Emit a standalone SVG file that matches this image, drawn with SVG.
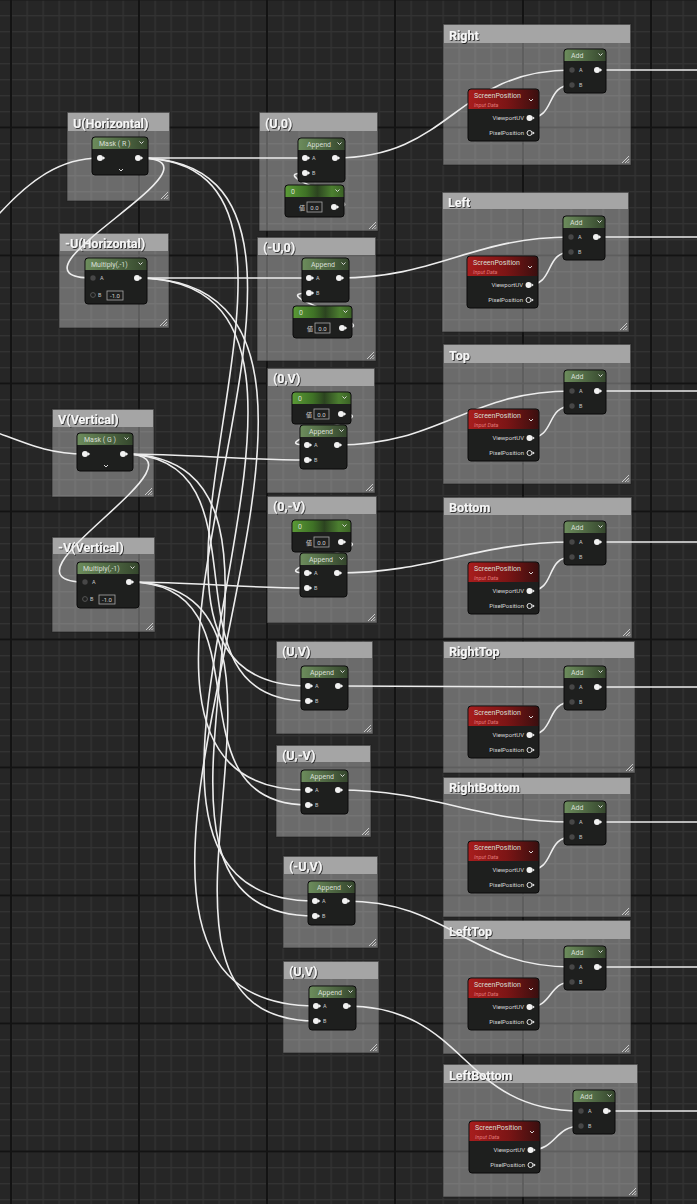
<svg xmlns="http://www.w3.org/2000/svg" width="697" height="1204" viewBox="0 0 697 1204">
<defs>
<pattern id="gridMinor" width="16" height="16" patternUnits="userSpaceOnUse" x="10.5" y="-1"><rect width="16" height="1.3" fill="#333333"/><rect width="1.3" height="16" fill="#333333"/></pattern>
<pattern id="gridMajor" width="128" height="128" patternUnits="userSpaceOnUse" x="10" y="126.5"><rect width="128" height="2" fill="#131313"/><rect width="2" height="128" fill="#131313"/></pattern>
<linearGradient id="gG" x1="0" y1="0" x2="1" y2="0"><stop offset="0" stop-color="#6c8c5c"/><stop offset="1" stop-color="#35472d"/></linearGradient>
<linearGradient id="gC" x1="0" y1="0" x2="1" y2="0"><stop offset="0" stop-color="#5a9a36"/><stop offset="0.35" stop-color="#3f7226"/><stop offset="0.55" stop-color="#2c4420"/><stop offset="0.8" stop-color="#4c7f30"/><stop offset="1" stop-color="#3b6126"/></linearGradient>
<linearGradient id="gS" x1="0" y1="0" x2="1" y2="0"><stop offset="0" stop-color="#a81d1d"/><stop offset="0.55" stop-color="#7c1515"/><stop offset="1" stop-color="#3a0f0f"/></linearGradient>
<filter id="ts" x="-5%" y="-30%" width="115%" height="160%"><feDropShadow dx="0.9" dy="0.9" stdDeviation="0.4" flood-color="#000" flood-opacity="0.75"/></filter>
<path id="grip" d="M-9,-2L-2,-9M-6,-2L-2,-6M-3.5,-2L-2,-3.5" stroke="#e2e2e2" stroke-width="0.8"/>
</defs>
<style>
.cb{fill:#ffffff;fill-opacity:.32;stroke:#1c1c1c;stroke-opacity:.6;stroke-width:1}
.ct{fill:#a5a5a5}
.ctt{font-family:Roboto,"Liberation Sans",sans-serif;font-weight:bold;font-size:12.5px;fill:#f6f6f6;filter:url(#ts)}
.w{fill:none;stroke:#ededed;stroke-width:1.6}
.nb{fill:#1e1f1e;stroke:#0a0a0a;stroke-width:1}
.hg{fill:url(#gG)}
.hc{fill:url(#gC)}
.hs{fill:url(#gS)}
.nt{font-family:Roboto,"Liberation Sans",sans-serif;font-size:7px;fill:#d8dfd5}
.sub{font-family:Roboto,"Liberation Sans",sans-serif;font-style:italic;font-size:5.5px;fill:#e07878}
.pl{font-family:Roboto,"Liberation Sans",sans-serif;font-size:5.5px;fill:#c8c8c8}
.pr{font-family:Roboto,"Liberation Sans",sans-serif;font-size:6px;fill:#d8d8d8;text-anchor:end}
.vt{font-family:Roboto,"Noto Sans CJK JP",sans-serif;font-size:6px;fill:#d0d0d0}
.vm{font-family:Roboto,"Liberation Sans",sans-serif;font-size:6px;fill:#d0d0d0;text-anchor:middle}
.vb{fill:#1e1f1e;stroke:#a8a8a8;stroke-width:0.8}
.pw{fill:#f2f2f2}
.pd{fill:#474747}
.ph{fill:none;stroke:#e6e6e6;stroke-width:1}
.pho{fill:none;stroke:#555;stroke-width:1}
.ch{fill:none;stroke:#dadada;stroke-width:1}
</style>
<rect width="697" height="1204" fill="#262626"/>
<rect width="697" height="1204" fill="url(#gridMinor)"/>
<rect width="697" height="1204" fill="url(#gridMajor)"/>

<g id="c-u" transform="translate(67,112)"><rect class="cb" width="103" height="89"/><rect class="ct" x="1" y="1" width="101" height="18"/><text class="ctt" x="6" y="16">U(Horizontal)</text><use href="#grip" x="103" y="89"/></g>
<g id="c-mu" transform="translate(59,233)"><rect class="cb" width="110" height="95"/><rect class="ct" x="1" y="1" width="108" height="17"/><text class="ctt" x="6" y="15">-U(Horizontal)</text><use href="#grip" x="110" y="95"/></g>
<g id="c-v" transform="translate(52,409)"><rect class="cb" width="102" height="88"/><rect class="ct" x="1" y="1" width="100" height="17"/><text class="ctt" x="6" y="15">V(Vertical)</text><use href="#grip" x="102" y="88"/></g>
<g id="c-mv" transform="translate(52,537)"><rect class="cb" width="103" height="95"/><rect class="ct" x="1" y="1" width="101" height="16"/><text class="ctt" x="6" y="14.5">-V(Vertical)</text><use href="#grip" x="103" y="95"/></g>
<g id="c-u0" transform="translate(259,112)"><rect class="cb" width="119" height="119"/><rect class="ct" x="1" y="1" width="117" height="18"/><text class="ctt" x="6" y="16">(U,0)</text><use href="#grip" x="119" y="119"/></g>
<g id="c-mu0" transform="translate(257,237)"><rect class="cb" width="119" height="124"/><rect class="ct" x="1" y="1" width="117" height="17"/><text class="ctt" x="6" y="15">(-U,0)</text><use href="#grip" x="119" y="124"/></g>
<g id="c-0v" transform="translate(267,368)"><rect class="cb" width="108" height="125"/><rect class="ct" x="1" y="1" width="106" height="17"/><text class="ctt" x="6" y="15">(0,V)</text><use href="#grip" x="108" y="125"/></g>
<g id="c-0mv" transform="translate(267,496)"><rect class="cb" width="110" height="127"/><rect class="ct" x="1" y="1" width="108" height="17"/><text class="ctt" x="6" y="15">(0,-V)</text><use href="#grip" x="110" y="127"/></g>
<g id="c-uv" transform="translate(276,641)"><rect class="cb" width="97" height="93"/><rect class="ct" x="1" y="1" width="95" height="16"/><text class="ctt" x="6" y="14.5">(U,V)</text><use href="#grip" x="97" y="93"/></g>
<g id="c-umv" transform="translate(276,745)"><rect class="cb" width="95" height="92"/><rect class="ct" x="1" y="1" width="93" height="16"/><text class="ctt" x="6" y="14.5">(U,-V)</text><use href="#grip" x="95" y="92"/></g>
<g id="c-muv" transform="translate(283,856)"><rect class="cb" width="95" height="92"/><rect class="ct" x="1" y="1" width="93" height="17"/><text class="ctt" x="6" y="15">(-U,V)</text><use href="#grip" x="95" y="92"/></g>
<g id="c-uv2" transform="translate(283,961)"><rect class="cb" width="96" height="92"/><rect class="ct" x="1" y="1" width="94" height="17"/><text class="ctt" x="6" y="15">(U,V)</text><use href="#grip" x="96" y="92"/></g>
<g id="c-right" transform="translate(443,24)"><rect class="cb" width="188" height="141"/><rect class="ct" x="1" y="1" width="186" height="18"/><text class="ctt" x="6" y="16">Right</text><use href="#grip" x="188" y="141"/></g>
<g id="c-left" transform="translate(442,192)"><rect class="cb" width="187" height="140"/><rect class="ct" x="1" y="1" width="185" height="16"/><text class="ctt" x="6" y="14.5">Left</text><use href="#grip" x="187" y="140"/></g>
<g id="c-top" transform="translate(443,344)"><rect class="cb" width="188" height="140"/><rect class="ct" x="1" y="1" width="186" height="18"/><text class="ctt" x="6" y="16">Top</text><use href="#grip" x="188" y="140"/></g>
<g id="c-bottom" transform="translate(443,497)"><rect class="cb" width="189" height="141"/><rect class="ct" x="1" y="1" width="187" height="17"/><text class="ctt" x="6" y="15">Bottom</text><use href="#grip" x="189" y="141"/></g>
<g id="c-righttop" transform="translate(443,641)"><rect class="cb" width="192" height="132"/><rect class="ct" x="1" y="1" width="190" height="16"/><text class="ctt" x="6" y="14.5">RightTop</text><use href="#grip" x="192" y="132"/></g>
<g id="c-rightbottom" transform="translate(443,777)"><rect class="cb" width="188" height="140"/><rect class="ct" x="1" y="1" width="186" height="16"/><text class="ctt" x="6" y="14.5">RightBottom</text><use href="#grip" x="188" y="140"/></g>
<g id="c-lefttop" transform="translate(443,920)"><rect class="cb" width="188" height="134"/><rect class="ct" x="1" y="1" width="186" height="18"/><text class="ctt" x="6" y="16">LeftTop</text><use href="#grip" x="188" y="134"/></g>
<g id="c-leftbottom" transform="translate(443,1064)"><rect class="cb" width="195" height="133"/><rect class="ct" x="1" y="1" width="193" height="18"/><text class="ctt" x="6" y="16">LeftBottom</text><use href="#grip" x="195" y="133"/></g>

<g id="connectors" class="w">
<path d="M-2,215 C30,180 60,158 100,158"/>
<path d="M-2,433 C30,445 50,454 85,454"/>
<path d="M138,158 C198,158 245,158 305,158"/>
<path d="M138,158 C243,158 -12,278 93,278"/>
<path d="M138,158 C389,158 57,686 308,686"/>
<path d="M138,158 C427,158 19,790 308,790"/>
<path d="M137,278 C199,278 247,278 309,278"/>
<path d="M137,278 C425,278 27,901 315,901"/>
<path d="M137,278 C464,278 -11,1006 316,1006"/>
<path d="M123,454 C191,454 239,460 307,460"/>
<path d="M123,454 C225,454 -17,582 85,582"/>
<path d="M123,454 C279,454 152,701 308,701"/>
<path d="M123,454 C358,454 80,916 315,916"/>
<path d="M129,582 C195,582 241,588 307,588"/>
<path d="M129,582 C274,582 163,805 308,805"/>
<path d="M129,582 C354,582 91,1021 316,1021"/>
<path d="M334,207 C380,207 259,173 305,173"/>
<path d="M342,328 C392,328 259,293 309,293"/>
<path d="M341,414 C391,414 257,445 307,445"/>
<path d="M341,542 C391,542 257,573 307,573"/>
<path d="M335,158 C452,158 455,70 572,70"/>
<path d="M339,278 C437,278 473,237 571,237"/>
<path d="M337,445 C441,445 468,391 572,391"/>
<path d="M337,573 C433,573 476,542 572,542"/>
<path d="M338,686 C423,686 487,687 572,687"/>
<path d="M338,790 C434,790 476,822 572,822"/>
<path d="M345,901 C450,901 467,967 572,967"/>
<path d="M346,1006 C468,1006 459,1111 581,1111"/>
<path d="M529,118 C556,118 545,85 572,85"/>
<path d="M528,285 C555,285 544,252 571,252"/>
<path d="M529,438 C556,438 545,406 572,406"/>
<path d="M529,591 C557,591 544,557 572,557"/>
<path d="M529,735 C556,735 545,702 572,702"/>
<path d="M529,870 C556,870 545,837 572,837"/>
<path d="M529,1007 C553,1007 548,982 572,982"/>
<path d="M530,1150 C557,1150 554,1126 581,1126"/>
<path d="M597,70H700"/>
<path d="M596,237H700"/>
<path d="M597,391H700"/>
<path d="M597,542H700"/>
<path d="M597,687H700"/>
<path d="M597,822H700"/>
<path d="M597,967H700"/>
<path d="M606,1111H700"/>
</g>

<g id="n-mask-r" transform="translate(92,137)"><rect class="nb" width="56" height="38" rx="3"/><path class="hg" d="M0.5,12V3.5Q0.5,0.5 3.5,0.5H52.5Q55.5,0.5 55.5,3.5V12Z"/><text class="nt" x="7" y="9">Mask ( R )</text><path class="ch" d="M47.5,4.5l2,2l2-2"/><circle class="pw" cx="8" cy="21" r="3"/><path class="pw" d="M11,19.3l2.2,1.7l-2.2,1.7z"/><circle class="pw" cx="46" cy="21" r="3"/><path class="pw" d="M49,19.3l2.2,1.7l-2.2,1.7z"/><path class="ch" d="M27,32l2,2l2-2"/></g>
<g id="n-mul-u" transform="translate(85,258)"><rect class="nb" width="62" height="46" rx="3"/><path class="hg" d="M0.5,12V3.5Q0.5,0.5 3.5,0.5H58.5Q61.5,0.5 61.5,3.5V12Z"/><text class="nt" x="6" y="9">Multiply(,-1)</text><path class="ch" d="M53.5,4.5l2,2l2-2"/><circle class="pd" cx="8" cy="20" r="2.7"/><text class="pl" x="15" y="22">A</text><circle class="pho" cx="8" cy="37" r="2.4"/><text class="pl" x="13" y="39">B</text><rect class="vb" x="22" y="33" width="16" height="9"/><text class="vm" x="30" y="40">-1.0</text><circle class="pw" cx="52" cy="20" r="3"/><path class="pw" d="M55,18.3l2.2,1.7l-2.2,1.7z"/></g>
<g id="n-mask-g" transform="translate(77,433)"><rect class="nb" width="56" height="38" rx="3"/><path class="hg" d="M0.5,12V3.5Q0.5,0.5 3.5,0.5H52.5Q55.5,0.5 55.5,3.5V12Z"/><text class="nt" x="7" y="9">Mask ( G )</text><path class="ch" d="M47.5,4.5l2,2l2-2"/><circle class="pw" cx="8" cy="21" r="3"/><path class="pw" d="M11,19.3l2.2,1.7l-2.2,1.7z"/><circle class="pw" cx="46" cy="21" r="3"/><path class="pw" d="M49,19.3l2.2,1.7l-2.2,1.7z"/><path class="ch" d="M27,32l2,2l2-2"/></g>
<g id="n-mul-v" transform="translate(77,562)"><rect class="nb" width="62" height="46" rx="3"/><path class="hg" d="M0.5,12V3.5Q0.5,0.5 3.5,0.5H58.5Q61.5,0.5 61.5,3.5V12Z"/><text class="nt" x="6" y="9">Multiply(,-1)</text><path class="ch" d="M53.5,4.5l2,2l2-2"/><circle class="pd" cx="8" cy="20" r="2.7"/><text class="pl" x="15" y="22">A</text><circle class="pho" cx="8" cy="37" r="2.4"/><text class="pl" x="13" y="39">B</text><rect class="vb" x="22" y="33" width="16" height="9"/><text class="vm" x="30" y="40">-1.0</text><circle class="pw" cx="52" cy="20" r="3"/><path class="pw" d="M55,18.3l2.2,1.7l-2.2,1.7z"/></g>

<g id="n-append-u0" transform="translate(298,138)"><rect class="nb" width="47" height="44" rx="3"/><path class="hg" d="M0.5,12V3.5Q0.5,0.5 3.5,0.5H43.5Q46.5,0.5 46.5,3.5V12Z"/><text class="nt" x="9" y="9">Append</text><path class="ch" d="M39.5,4.5l2,2l2-2"/><circle class="pw" cx="7" cy="20" r="3"/><path class="pw" d="M10,18.3l2.2,1.7l-2.2,1.7z"/><text class="pl" x="14" y="22">A</text><circle class="pw" cx="7" cy="35" r="3"/><path class="pw" d="M10,33.3l2.2,1.7l-2.2,1.7z"/><text class="pl" x="14" y="37">B</text><circle class="pw" cx="37" cy="20" r="3"/><path class="pw" d="M40,18.3l2.2,1.7l-2.2,1.7z"/></g>
<g id="n-const-u0" transform="translate(285,185)"><rect class="nb" width="59" height="32" rx="3"/><path class="hc" d="M0.5,12V3.5Q0.5,0.5 3.5,0.5H55.5Q58.5,0.5 58.5,3.5V12Z"/><text class="nt" x="6" y="9">0</text><path class="ch" d="M50.5,4.5l2,2l2-2"/><text class="vt" x="14" y="25">値</text><rect class="vb" x="22" y="17" width="15" height="10"/><text class="vm" x="29.5" y="24.5">0.0</text><circle class="pw" cx="49" cy="22" r="3"/><path class="pw" d="M52,20.3l2.2,1.7l-2.2,1.7z"/></g>

<g id="n-append-mu0" transform="translate(302,258)"><rect class="nb" width="47" height="44" rx="3"/><path class="hg" d="M0.5,12V3.5Q0.5,0.5 3.5,0.5H43.5Q46.5,0.5 46.5,3.5V12Z"/><text class="nt" x="9" y="9">Append</text><path class="ch" d="M39.5,4.5l2,2l2-2"/><circle class="pw" cx="7" cy="20" r="3"/><path class="pw" d="M10,18.3l2.2,1.7l-2.2,1.7z"/><text class="pl" x="14" y="22">A</text><circle class="pw" cx="7" cy="35" r="3"/><path class="pw" d="M10,33.3l2.2,1.7l-2.2,1.7z"/><text class="pl" x="14" y="37">B</text><circle class="pw" cx="37" cy="20" r="3"/><path class="pw" d="M40,18.3l2.2,1.7l-2.2,1.7z"/></g>
<g id="n-const-mu0" transform="translate(293,306)"><rect class="nb" width="59" height="32" rx="3"/><path class="hc" d="M0.5,12V3.5Q0.5,0.5 3.5,0.5H55.5Q58.5,0.5 58.5,3.5V12Z"/><text class="nt" x="6" y="9">0</text><path class="ch" d="M50.5,4.5l2,2l2-2"/><text class="vt" x="14" y="25">値</text><rect class="vb" x="22" y="17" width="15" height="10"/><text class="vm" x="29.5" y="24.5">0.0</text><circle class="pw" cx="49" cy="22" r="3"/><path class="pw" d="M52,20.3l2.2,1.7l-2.2,1.7z"/></g>

<g id="n-const-0v" transform="translate(292,392)"><rect class="nb" width="59" height="32" rx="3"/><path class="hc" d="M0.5,12V3.5Q0.5,0.5 3.5,0.5H55.5Q58.5,0.5 58.5,3.5V12Z"/><text class="nt" x="6" y="9">0</text><path class="ch" d="M50.5,4.5l2,2l2-2"/><text class="vt" x="14" y="25">値</text><rect class="vb" x="22" y="17" width="15" height="10"/><text class="vm" x="29.5" y="24.5">0.0</text><circle class="pw" cx="49" cy="22" r="3"/><path class="pw" d="M52,20.3l2.2,1.7l-2.2,1.7z"/></g>
<g id="n-append-0v" transform="translate(300,425)"><rect class="nb" width="47" height="44" rx="3"/><path class="hg" d="M0.5,12V3.5Q0.5,0.5 3.5,0.5H43.5Q46.5,0.5 46.5,3.5V12Z"/><text class="nt" x="9" y="9">Append</text><path class="ch" d="M39.5,4.5l2,2l2-2"/><circle class="pw" cx="7" cy="20" r="3"/><path class="pw" d="M10,18.3l2.2,1.7l-2.2,1.7z"/><text class="pl" x="14" y="22">A</text><circle class="pw" cx="7" cy="35" r="3"/><path class="pw" d="M10,33.3l2.2,1.7l-2.2,1.7z"/><text class="pl" x="14" y="37">B</text><circle class="pw" cx="37" cy="20" r="3"/><path class="pw" d="M40,18.3l2.2,1.7l-2.2,1.7z"/></g>

<g id="n-const-0mv" transform="translate(292,520)"><rect class="nb" width="59" height="32" rx="3"/><path class="hc" d="M0.5,12V3.5Q0.5,0.5 3.5,0.5H55.5Q58.5,0.5 58.5,3.5V12Z"/><text class="nt" x="6" y="9">0</text><path class="ch" d="M50.5,4.5l2,2l2-2"/><text class="vt" x="14" y="25">値</text><rect class="vb" x="22" y="17" width="15" height="10"/><text class="vm" x="29.5" y="24.5">0.0</text><circle class="pw" cx="49" cy="22" r="3"/><path class="pw" d="M52,20.3l2.2,1.7l-2.2,1.7z"/></g>
<g id="n-append-0mv" transform="translate(300,553)"><rect class="nb" width="47" height="44" rx="3"/><path class="hg" d="M0.5,12V3.5Q0.5,0.5 3.5,0.5H43.5Q46.5,0.5 46.5,3.5V12Z"/><text class="nt" x="9" y="9">Append</text><path class="ch" d="M39.5,4.5l2,2l2-2"/><circle class="pw" cx="7" cy="20" r="3"/><path class="pw" d="M10,18.3l2.2,1.7l-2.2,1.7z"/><text class="pl" x="14" y="22">A</text><circle class="pw" cx="7" cy="35" r="3"/><path class="pw" d="M10,33.3l2.2,1.7l-2.2,1.7z"/><text class="pl" x="14" y="37">B</text><circle class="pw" cx="37" cy="20" r="3"/><path class="pw" d="M40,18.3l2.2,1.7l-2.2,1.7z"/></g>

<g id="n-append-uv" transform="translate(301,666)"><rect class="nb" width="47" height="44" rx="3"/><path class="hg" d="M0.5,12V3.5Q0.5,0.5 3.5,0.5H43.5Q46.5,0.5 46.5,3.5V12Z"/><text class="nt" x="9" y="9">Append</text><path class="ch" d="M39.5,4.5l2,2l2-2"/><circle class="pw" cx="7" cy="20" r="3"/><path class="pw" d="M10,18.3l2.2,1.7l-2.2,1.7z"/><text class="pl" x="14" y="22">A</text><circle class="pw" cx="7" cy="35" r="3"/><path class="pw" d="M10,33.3l2.2,1.7l-2.2,1.7z"/><text class="pl" x="14" y="37">B</text><circle class="pw" cx="37" cy="20" r="3"/><path class="pw" d="M40,18.3l2.2,1.7l-2.2,1.7z"/></g>
<g id="n-append-umv" transform="translate(301,770)"><rect class="nb" width="47" height="44" rx="3"/><path class="hg" d="M0.5,12V3.5Q0.5,0.5 3.5,0.5H43.5Q46.5,0.5 46.5,3.5V12Z"/><text class="nt" x="9" y="9">Append</text><path class="ch" d="M39.5,4.5l2,2l2-2"/><circle class="pw" cx="7" cy="20" r="3"/><path class="pw" d="M10,18.3l2.2,1.7l-2.2,1.7z"/><text class="pl" x="14" y="22">A</text><circle class="pw" cx="7" cy="35" r="3"/><path class="pw" d="M10,33.3l2.2,1.7l-2.2,1.7z"/><text class="pl" x="14" y="37">B</text><circle class="pw" cx="37" cy="20" r="3"/><path class="pw" d="M40,18.3l2.2,1.7l-2.2,1.7z"/></g>
<g id="n-append-muv" transform="translate(308,881)"><rect class="nb" width="47" height="44" rx="3"/><path class="hg" d="M0.5,12V3.5Q0.5,0.5 3.5,0.5H43.5Q46.5,0.5 46.5,3.5V12Z"/><text class="nt" x="9" y="9">Append</text><path class="ch" d="M39.5,4.5l2,2l2-2"/><circle class="pw" cx="7" cy="20" r="3"/><path class="pw" d="M10,18.3l2.2,1.7l-2.2,1.7z"/><text class="pl" x="14" y="22">A</text><circle class="pw" cx="7" cy="35" r="3"/><path class="pw" d="M10,33.3l2.2,1.7l-2.2,1.7z"/><text class="pl" x="14" y="37">B</text><circle class="pw" cx="37" cy="20" r="3"/><path class="pw" d="M40,18.3l2.2,1.7l-2.2,1.7z"/></g>
<g id="n-append-uv2" transform="translate(309,986)"><rect class="nb" width="47" height="44" rx="3"/><path class="hg" d="M0.5,12V3.5Q0.5,0.5 3.5,0.5H43.5Q46.5,0.5 46.5,3.5V12Z"/><text class="nt" x="9" y="9">Append</text><path class="ch" d="M39.5,4.5l2,2l2-2"/><circle class="pw" cx="7" cy="20" r="3"/><path class="pw" d="M10,18.3l2.2,1.7l-2.2,1.7z"/><text class="pl" x="14" y="22">A</text><circle class="pw" cx="7" cy="35" r="3"/><path class="pw" d="M10,33.3l2.2,1.7l-2.2,1.7z"/><text class="pl" x="14" y="37">B</text><circle class="pw" cx="37" cy="20" r="3"/><path class="pw" d="M40,18.3l2.2,1.7l-2.2,1.7z"/></g>

<g id="n-right-add" transform="translate(564,49)"><rect class="nb" width="42" height="44" rx="3"/><path class="hg" d="M0.5,12V3.5Q0.5,0.5 3.5,0.5H38.5Q41.5,0.5 41.5,3.5V12Z"/><text class="nt" x="7" y="9">Add</text><path class="ch" d="M34.5,4.5l2,2l2-2"/><circle class="pd" cx="8" cy="21" r="2.7"/><text class="pl" x="15" y="23">A</text><circle class="pd" cx="8" cy="36" r="2.7"/><text class="pl" x="15" y="38">B</text><circle class="pw" cx="33" cy="21" r="3"/><path class="pw" d="M36,19.3l2.2,1.7l-2.2,1.7z"/></g>
<g id="n-right-sp" transform="translate(468,89)"><rect class="nb" width="71" height="52" rx="3"/><path class="hs" d="M0.5,20V3.5Q0.5,0.5 3.5,0.5H67.5Q70.5,0.5 70.5,3.5V20Z"/><text class="nt" x="6" y="9">ScreenPosition</text><text class="sub" x="6" y="17.5">Input Data</text><path class="ch" d="M61,10l2,2l2-2"/><text class="pr" x="56" y="31">ViewportUV</text><circle class="pw" cx="61.5" cy="29" r="3"/><path class="pw" d="M64.5,27.3l2.2,1.7l-2.2,1.7z"/><text class="pr" x="56" y="46">PixelPosition</text><circle class="ph" cx="61.5" cy="44" r="2.5"/><path class="pw" d="M64.5,42.3l2.2,1.7l-2.2,1.7z"/></g>

<g id="n-left-add" transform="translate(563,216)"><rect class="nb" width="42" height="44" rx="3"/><path class="hg" d="M0.5,12V3.5Q0.5,0.5 3.5,0.5H38.5Q41.5,0.5 41.5,3.5V12Z"/><text class="nt" x="7" y="9">Add</text><path class="ch" d="M34.5,4.5l2,2l2-2"/><circle class="pd" cx="8" cy="21" r="2.7"/><text class="pl" x="15" y="23">A</text><circle class="pd" cx="8" cy="36" r="2.7"/><text class="pl" x="15" y="38">B</text><circle class="pw" cx="33" cy="21" r="3"/><path class="pw" d="M36,19.3l2.2,1.7l-2.2,1.7z"/></g>
<g id="n-left-sp" transform="translate(467,256)"><rect class="nb" width="71" height="52" rx="3"/><path class="hs" d="M0.5,20V3.5Q0.5,0.5 3.5,0.5H67.5Q70.5,0.5 70.5,3.5V20Z"/><text class="nt" x="6" y="9">ScreenPosition</text><text class="sub" x="6" y="17.5">Input Data</text><path class="ch" d="M61,10l2,2l2-2"/><text class="pr" x="56" y="31">ViewportUV</text><circle class="pw" cx="61.5" cy="29" r="3"/><path class="pw" d="M64.5,27.3l2.2,1.7l-2.2,1.7z"/><text class="pr" x="56" y="46">PixelPosition</text><circle class="ph" cx="61.5" cy="44" r="2.5"/><path class="pw" d="M64.5,42.3l2.2,1.7l-2.2,1.7z"/></g>

<g id="n-top-add" transform="translate(564,370)"><rect class="nb" width="42" height="44" rx="3"/><path class="hg" d="M0.5,12V3.5Q0.5,0.5 3.5,0.5H38.5Q41.5,0.5 41.5,3.5V12Z"/><text class="nt" x="7" y="9">Add</text><path class="ch" d="M34.5,4.5l2,2l2-2"/><circle class="pd" cx="8" cy="21" r="2.7"/><text class="pl" x="15" y="23">A</text><circle class="pd" cx="8" cy="36" r="2.7"/><text class="pl" x="15" y="38">B</text><circle class="pw" cx="33" cy="21" r="3"/><path class="pw" d="M36,19.3l2.2,1.7l-2.2,1.7z"/></g>
<g id="n-top-sp" transform="translate(468,409)"><rect class="nb" width="71" height="52" rx="3"/><path class="hs" d="M0.5,20V3.5Q0.5,0.5 3.5,0.5H67.5Q70.5,0.5 70.5,3.5V20Z"/><text class="nt" x="6" y="9">ScreenPosition</text><text class="sub" x="6" y="17.5">Input Data</text><path class="ch" d="M61,10l2,2l2-2"/><text class="pr" x="56" y="31">ViewportUV</text><circle class="pw" cx="61.5" cy="29" r="3"/><path class="pw" d="M64.5,27.3l2.2,1.7l-2.2,1.7z"/><text class="pr" x="56" y="46">PixelPosition</text><circle class="ph" cx="61.5" cy="44" r="2.5"/><path class="pw" d="M64.5,42.3l2.2,1.7l-2.2,1.7z"/></g>

<g id="n-bottom-add" transform="translate(564,521)"><rect class="nb" width="42" height="44" rx="3"/><path class="hg" d="M0.5,12V3.5Q0.5,0.5 3.5,0.5H38.5Q41.5,0.5 41.5,3.5V12Z"/><text class="nt" x="7" y="9">Add</text><path class="ch" d="M34.5,4.5l2,2l2-2"/><circle class="pd" cx="8" cy="21" r="2.7"/><text class="pl" x="15" y="23">A</text><circle class="pd" cx="8" cy="36" r="2.7"/><text class="pl" x="15" y="38">B</text><circle class="pw" cx="33" cy="21" r="3"/><path class="pw" d="M36,19.3l2.2,1.7l-2.2,1.7z"/></g>
<g id="n-bottom-sp" transform="translate(468,562)"><rect class="nb" width="71" height="52" rx="3"/><path class="hs" d="M0.5,20V3.5Q0.5,0.5 3.5,0.5H67.5Q70.5,0.5 70.5,3.5V20Z"/><text class="nt" x="6" y="9">ScreenPosition</text><text class="sub" x="6" y="17.5">Input Data</text><path class="ch" d="M61,10l2,2l2-2"/><text class="pr" x="56" y="31">ViewportUV</text><circle class="pw" cx="61.5" cy="29" r="3"/><path class="pw" d="M64.5,27.3l2.2,1.7l-2.2,1.7z"/><text class="pr" x="56" y="46">PixelPosition</text><circle class="ph" cx="61.5" cy="44" r="2.5"/><path class="pw" d="M64.5,42.3l2.2,1.7l-2.2,1.7z"/></g>

<g id="n-righttop-add" transform="translate(564,666)"><rect class="nb" width="42" height="44" rx="3"/><path class="hg" d="M0.5,12V3.5Q0.5,0.5 3.5,0.5H38.5Q41.5,0.5 41.5,3.5V12Z"/><text class="nt" x="7" y="9">Add</text><path class="ch" d="M34.5,4.5l2,2l2-2"/><circle class="pd" cx="8" cy="21" r="2.7"/><text class="pl" x="15" y="23">A</text><circle class="pd" cx="8" cy="36" r="2.7"/><text class="pl" x="15" y="38">B</text><circle class="pw" cx="33" cy="21" r="3"/><path class="pw" d="M36,19.3l2.2,1.7l-2.2,1.7z"/></g>
<g id="n-righttop-sp" transform="translate(468,706)"><rect class="nb" width="71" height="52" rx="3"/><path class="hs" d="M0.5,20V3.5Q0.5,0.5 3.5,0.5H67.5Q70.5,0.5 70.5,3.5V20Z"/><text class="nt" x="6" y="9">ScreenPosition</text><text class="sub" x="6" y="17.5">Input Data</text><path class="ch" d="M61,10l2,2l2-2"/><text class="pr" x="56" y="31">ViewportUV</text><circle class="pw" cx="61.5" cy="29" r="3"/><path class="pw" d="M64.5,27.3l2.2,1.7l-2.2,1.7z"/><text class="pr" x="56" y="46">PixelPosition</text><circle class="ph" cx="61.5" cy="44" r="2.5"/><path class="pw" d="M64.5,42.3l2.2,1.7l-2.2,1.7z"/></g>

<g id="n-rightbottom-add" transform="translate(564,801)"><rect class="nb" width="42" height="44" rx="3"/><path class="hg" d="M0.5,12V3.5Q0.5,0.5 3.5,0.5H38.5Q41.5,0.5 41.5,3.5V12Z"/><text class="nt" x="7" y="9">Add</text><path class="ch" d="M34.5,4.5l2,2l2-2"/><circle class="pd" cx="8" cy="21" r="2.7"/><text class="pl" x="15" y="23">A</text><circle class="pd" cx="8" cy="36" r="2.7"/><text class="pl" x="15" y="38">B</text><circle class="pw" cx="33" cy="21" r="3"/><path class="pw" d="M36,19.3l2.2,1.7l-2.2,1.7z"/></g>
<g id="n-rightbottom-sp" transform="translate(468,841)"><rect class="nb" width="71" height="52" rx="3"/><path class="hs" d="M0.5,20V3.5Q0.5,0.5 3.5,0.5H67.5Q70.5,0.5 70.5,3.5V20Z"/><text class="nt" x="6" y="9">ScreenPosition</text><text class="sub" x="6" y="17.5">Input Data</text><path class="ch" d="M61,10l2,2l2-2"/><text class="pr" x="56" y="31">ViewportUV</text><circle class="pw" cx="61.5" cy="29" r="3"/><path class="pw" d="M64.5,27.3l2.2,1.7l-2.2,1.7z"/><text class="pr" x="56" y="46">PixelPosition</text><circle class="ph" cx="61.5" cy="44" r="2.5"/><path class="pw" d="M64.5,42.3l2.2,1.7l-2.2,1.7z"/></g>

<g id="n-lefttop-add" transform="translate(564,946)"><rect class="nb" width="42" height="44" rx="3"/><path class="hg" d="M0.5,12V3.5Q0.5,0.5 3.5,0.5H38.5Q41.5,0.5 41.5,3.5V12Z"/><text class="nt" x="7" y="9">Add</text><path class="ch" d="M34.5,4.5l2,2l2-2"/><circle class="pd" cx="8" cy="21" r="2.7"/><text class="pl" x="15" y="23">A</text><circle class="pd" cx="8" cy="36" r="2.7"/><text class="pl" x="15" y="38">B</text><circle class="pw" cx="33" cy="21" r="3"/><path class="pw" d="M36,19.3l2.2,1.7l-2.2,1.7z"/></g>
<g id="n-lefttop-sp" transform="translate(468,978)"><rect class="nb" width="71" height="52" rx="3"/><path class="hs" d="M0.5,20V3.5Q0.5,0.5 3.5,0.5H67.5Q70.5,0.5 70.5,3.5V20Z"/><text class="nt" x="6" y="9">ScreenPosition</text><text class="sub" x="6" y="17.5">Input Data</text><path class="ch" d="M61,10l2,2l2-2"/><text class="pr" x="56" y="31">ViewportUV</text><circle class="pw" cx="61.5" cy="29" r="3"/><path class="pw" d="M64.5,27.3l2.2,1.7l-2.2,1.7z"/><text class="pr" x="56" y="46">PixelPosition</text><circle class="ph" cx="61.5" cy="44" r="2.5"/><path class="pw" d="M64.5,42.3l2.2,1.7l-2.2,1.7z"/></g>

<g id="n-leftbottom-add" transform="translate(573,1090)"><rect class="nb" width="42" height="44" rx="3"/><path class="hg" d="M0.5,12V3.5Q0.5,0.5 3.5,0.5H38.5Q41.5,0.5 41.5,3.5V12Z"/><text class="nt" x="7" y="9">Add</text><path class="ch" d="M34.5,4.5l2,2l2-2"/><circle class="pd" cx="8" cy="21" r="2.7"/><text class="pl" x="15" y="23">A</text><circle class="pd" cx="8" cy="36" r="2.7"/><text class="pl" x="15" y="38">B</text><circle class="pw" cx="33" cy="21" r="3"/><path class="pw" d="M36,19.3l2.2,1.7l-2.2,1.7z"/></g>
<g id="n-leftbottom-sp" transform="translate(469,1121)"><rect class="nb" width="71" height="52" rx="3"/><path class="hs" d="M0.5,20V3.5Q0.5,0.5 3.5,0.5H67.5Q70.5,0.5 70.5,3.5V20Z"/><text class="nt" x="6" y="9">ScreenPosition</text><text class="sub" x="6" y="17.5">Input Data</text><path class="ch" d="M61,10l2,2l2-2"/><text class="pr" x="56" y="31">ViewportUV</text><circle class="pw" cx="61.5" cy="29" r="3"/><path class="pw" d="M64.5,27.3l2.2,1.7l-2.2,1.7z"/><text class="pr" x="56" y="46">PixelPosition</text><circle class="ph" cx="61.5" cy="44" r="2.5"/><path class="pw" d="M64.5,42.3l2.2,1.7l-2.2,1.7z"/></g>
</svg>
